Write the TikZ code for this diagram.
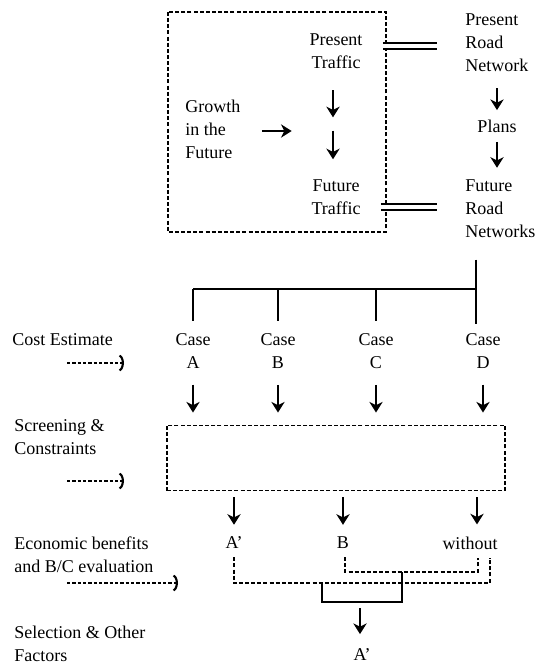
\documentclass[tikz,border=0pt]{standalone}
\usepackage{fontspec}
\setmainfont{Liberation Serif}
\usetikzlibrary{arrows.meta}
\tikzset{
  lbl/.style={inner sep=0pt, font=\fontsize{13.5}{17.25}\selectfont, align=center},
  lft/.style={lbl, align=left, anchor=west},
  dbox/.style={draw, line width=1.2pt, dash pattern=on 3pt off 1.6pt},
  dln/.style={line width=1.2pt, dash pattern=on 3pt off 1.6pt},
  dar/.style={line width=1.1pt, -{Stealth[length=8pt, width=10pt, inset=2.5pt]}},
  far/.style={line width=1pt, dash pattern=on 2.4pt off 1.6pt},
  fhead/.style={line width=1.6pt, -{Arc Barb[arc=130, length=5pt, width=14pt]}},
  dbl/.style={double, double distance=3.5pt, line width=1pt},
  tree/.style={line width=1.5pt},
}
\begin{document}
\begin{tikzpicture}[x=0.75pt, y=-0.75pt]
  \useasboundingbox (0,0) rectangle (546,665);
  % Traffic block
  \draw[dbox] (168,12) rectangle (386,232);
  \node[lbl] (pt) at (336,51) {Present\\Traffic};
  \node[lft] (gr) at (185,129) {Growth\\in the\\Future};
  \node[lbl] (ft) at (336,197) {Future\\Traffic};
  \coordinate (gm) at (333,124);
  \draw[dar, shorten <=16pt, shorten >=5pt] (pt.south -| gm) -- (gm);
  \draw[dar, shorten <=5pt, shorten >=15pt] (gm) -- (ft.north -| gm);
  \draw[dar, shorten <=16pt, shorten >=31pt] (gr.east |- 0,131) -- (gm |- 0,131);
  % Road networks
  \node[lft] (prn) at (465,43) {Present\\Road\\Network};
  \node[lbl] (pl) at (497,126) {Plans};
  \node[lft] (frn) at (465,209) {Future\\Road\\Networks};
  \draw[dar, shorten <=12pt, shorten >=7pt] (pl |- prn.south) -- (pl.north);
  \draw[dar, shorten <=7pt, shorten >=9pt] (pl.south) -- (pl |- frn.north);
  \draw[dbl, shorten <=15pt, shorten >=21pt] (pt.east |- 0,46) -- (prn.west |- 0,46);
  \draw[dbl, shorten <=15pt, shorten >=21pt] (ft.east |- 0,207) -- (frn.west |- 0,207);
  % Cases
  \node[lbl] (ca) at (193,351) {Case\\A};
  \node[lbl] (cb) at (278,351) {Case\\B};
  \node[lbl] (cc) at (376,351) {Case\\C};
  \node[lbl] (cd) at (483,351) {Case\\D};
  \coordinate (tj) at (476,289);
  \draw[tree, shorten <=16pt, shorten >=7pt] (tj |- frn.south) -- (tj |- cd.north);
  \draw[tree] (ca |- tj) -- (tj);
  \foreach \c in {ca,cb,cc}
    \draw[tree, shorten >=9pt] (\c |- tj) -- (\c.north);
  % Screening
  \node[dbox, minimum width=253.5pt, minimum height=49pt] (scr) at (336,458) {};
  \foreach \c in {ca,cb,cc,cd}
    \draw[dar, shorten <=12pt, shorten >=9pt] (\c.south) -- (\c |- scr.north);
  % Results
  \node[lbl] (ap) at (234,543) {A'};
  \node[lbl] (bn) at (343,543) {B};
  \node[lbl] (wo) at (470,543) {without};
  \foreach \c/\xx in {ap/234,bn/343,wo/477}
    \draw[dar, shorten <=4.5pt, shorten >=9pt] (\xx,0 |- scr.south) -- (\xx,0 |- \c.north);
  \coordinate (ev) at (490,583);
  \coordinate (bv) at (478,572);
  \draw[dln] ([yshift=-6pt]ap.south) |- (ev) -- ([yshift=-6pt]ev |- wo.south);
  \draw[dln] ([yshift=-6pt]345,0 |- bn.south) |- (bv) -- ([yshift=-6pt]bv |- wo.south);
  \coordinate (sl) at (322,602);
  \coordinate (sr) at (402,602);
  \draw[tree] (sl |- ev) -- (sl) -- (sr) -- (sr |- bv);
  \node[lbl] (fa) at (362,655) {A'};
  \draw[dar, shorten <=4.5pt, shorten >=11pt] (360,0 |- sr) -- (360,0 |- fa.north);
  % Left side labels
  \node[lft] (ce) at (12,340) {Cost Estimate};
  \node[lft] (sn) at (14,437) {Screening \&\\Constraints};
  \node[lft] (en) at (14,555) {Economic benefits\\and B/C evaluation};
  \node[lft] (se) at (14,644) {Selection \& Other\\Factors};
  % dotted feeds with bracket heads
  \foreach \n/\yy/\xe in {ce1/363/124, sn1/481/124, en1/583/178} {
    \coordinate (\n) at (67,\yy);
    \coordinate (\n e) at (\xe,\yy);
    \draw[far] (\n) -- (\n e);
    \draw[fhead] ([xshift=-2pt]\n e) -- (\n e);
  }
\end{tikzpicture}
\end{document}
